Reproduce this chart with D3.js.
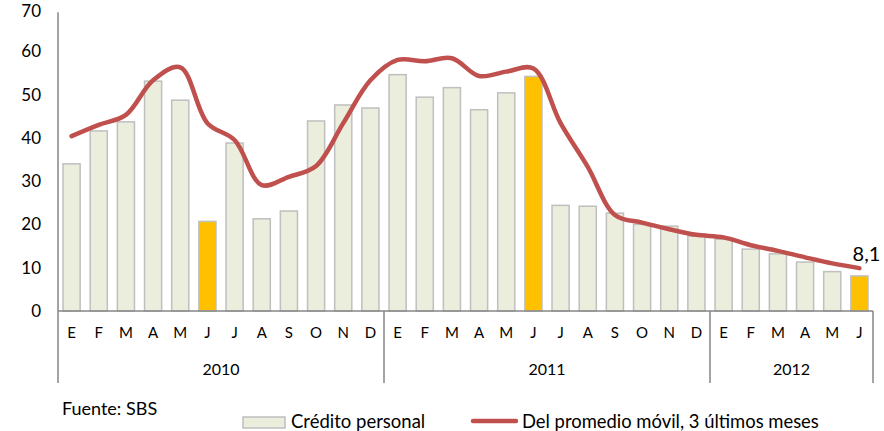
<!DOCTYPE html>
<html>
<head>
<meta charset="utf-8">
<script src="https://cdn.jsdelivr.net/npm/d3@7"></script>
<style>
  body { margin: 0; background: #fff; }
  svg { font-family: Lato, "Open Sans", sans-serif; }
</style>
</head>
<body>
<script>
// months and years for the two-level category axis
let months = ['E','F','M','A','M','J','J','A','S','O','N','D',
              'E','F','M','A','M','J','J','A','S','O','N','D',
              'E','F','M','A','M','J'];
let years = ['2010', '2011', '2012'];
let yearCounts = [12, 12, 6];

// crédito personal, growth %
let credito = [34.0, 41.6, 43.7, 53.1, 48.7, 20.7, 38.8, 21.3, 23.1, 43.9, 47.6, 46.9,
               54.6, 49.4, 51.6, 46.5, 50.4, 54.2, 24.4, 24.2, 22.6, 20.0, 19.6, 17.3,
               16.6, 14.3, 13.2, 11.3, 9.1, 8.1];
// moving average of last 3 months
let promedio = [40.4, 43.0, 45.3, 53.3, 56.3, 43.4, 39.5, 29.1, 31.0, 33.5, 43.4, 53.3,
                58.0, 57.7, 58.4, 54.3, 55.3, 56.0, 43.4, 33.3, 22.2, 20.4, 18.9, 17.6,
                17.0, 15.2, 13.9, 12.4, 11.0, 9.9];
let highlight = [5, 17, 29]; // June bars
let yTicks = [0, 10, 20, 30, 40, 50, 60, 70];

let margin = { left: 58, top: 8, right: 11, bottom: 120 };
let width = 884, height = 431;
let plotW = 873 - margin.left;
let plotH = 311 - margin.top;

let svg = d3.select('body').append('svg')
  .attr('width', width).attr('height', height);

let g = svg.append('g')
  .attr('transform', 'translate(' + margin.left + ',' + margin.top + ')');

let x = d3.scaleBand()
  .domain(d3.range(months.length))
  .range([0, plotW])
  .paddingInner(0.37)
  .paddingOuter(0.185);

let y = d3.scaleLinear()
  .domain([0, 70])
  .range([plotH, 0]);

// bars
g.selectAll('rect.bar')
  .data(credito)
  .enter().append('rect')
  .attr('class', 'bar')
  .attr('x', (d, i) => x(i))
  .attr('width', x.bandwidth())
  .attr('y', d => y(d))
  .attr('height', d => plotH - y(d))
  .attr('fill', (d, i) => highlight.includes(i) ? '#FFC000' : '#EBEEDD')
  .attr('stroke', '#BFBFBF')
  .attr('stroke-width', 1.5);

// smoothed line
let line = d3.line()
  .x((d, i) => x(i) + x.bandwidth() / 2)
  .y(d => y(d))
  .curve(d3.curveCatmullRom.alpha(0.5));

g.append('path')
  .attr('d', line(promedio))
  .attr('fill', 'none')
  .attr('stroke', '#C0504D')
  .attr('stroke-width', 4.5)
  .attr('stroke-linecap', 'round');

// last value label
let last = promedio.length - 1;
g.append('text')
  .attr('x', x(last) + x.bandwidth() / 2 + 7)
  .attr('y', y(promedio[last]) - 7)
  .attr('text-anchor', 'middle')
  .attr('font-size', 20)
  .attr('fill', '#000')
  .text(String(credito[last]).replace('.', ','));

// y axis
let yAxis = d3.axisLeft(y)
  .tickValues(yTicks)
  .tickSize(0)
  .tickPadding(17);

let yg = g.append('g').call(yAxis);
yg.select('.domain').attr('stroke', '#868686').attr('stroke-width', 1.5)
  .attr('d', 'M0,' + y(69) + 'V' + plotH);
yg.selectAll('text').attr('font-size', 17).attr('fill', '#000')
  .attr('font-family', 'Lato, sans-serif');
// top label sits against the edge; nudge it so it stays inside
yg.selectAll('.tick').filter(d => d === 70).select('text').attr('dy', '0.5em');

// x axis: baseline, month labels, year dividers
let xg = g.append('g').attr('transform', 'translate(0,' + plotH + ')');
xg.append('line')
  .attr('x1', 0).attr('x2', plotW)
  .attr('stroke', '#868686').attr('stroke-width', 1.5);

xg.selectAll('text.month')
  .data(months)
  .enter().append('text')
  .attr('class', 'month')
  .attr('x', (d, i) => x(i) + x.bandwidth() / 2)
  .attr('y', 27)
  .attr('text-anchor', 'middle')
  .attr('font-size', 15)
  .attr('fill', '#000')
  .text(d => d);

let step = x.step();
let bounds = [0];
yearCounts.forEach(c => bounds.push(bounds[bounds.length - 1] + c));

xg.selectAll('line.div')
  .data(bounds)
  .enter().append('line')
  .attr('class', 'div')
  .attr('x1', d => Math.min(d * step, plotW))
  .attr('x2', d => Math.min(d * step, plotW))
  .attr('y1', 0).attr('y2', 72)
  .attr('stroke', '#868686').attr('stroke-width', 1.5);

xg.selectAll('text.year')
  .data(years)
  .enter().append('text')
  .attr('class', 'year')
  .attr('x', (d, i) => (bounds[i] + bounds[i + 1]) / 2 * step)
  .attr('y', 64)
  .attr('text-anchor', 'middle')
  .attr('font-size', 16)
  .attr('fill', '#000')
  .text(d => d);

// source and legend
svg.append('text')
  .attr('x', 62).attr('y', 415)
  .attr('font-size', 18)
  .text('Fuente: SBS');

let legend = svg.append('g');
legend.append('rect')
  .attr('x', 243).attr('y', 417).attr('width', 42).attr('height', 11)
  .attr('fill', '#EBEEDD').attr('stroke', '#BFBFBF').attr('stroke-width', 1.5);
legend.append('text')
  .attr('x', 291).attr('y', 428)
  .attr('font-size', 18.5)
  .text('Crédito personal');
legend.append('line')
  .attr('x1', 473).attr('x2', 516).attr('y1', 421).attr('y2', 421)
  .attr('stroke', '#C0504D').attr('stroke-width', 4.5).attr('stroke-linecap', 'round');
legend.append('text')
  .attr('x', 522).attr('y', 428)
  .attr('font-size', 18.4)
  .text('Del promedio móvil, 3 últimos meses');
</script>
</body>
</html>
